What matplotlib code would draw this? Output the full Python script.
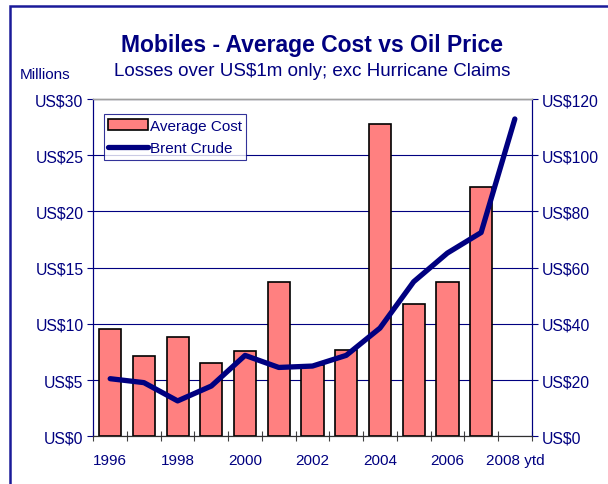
import numpy as np
import matplotlib.pyplot as plt
from matplotlib.patches import Rectangle

plt.rcParams['font.family'] = ['Liberation Sans', 'DejaVu Sans']

NAVY = '#000080'

years = ['1996', '1997', '1998', '1999', '2000', '2001', '2002',
         '2003', '2004', '2005', '2006', '2007', '2008 ytd']
avg_cost = [9.55, 7.15, 8.8, 6.5, 7.6, 13.75, 6.3, 7.7, 27.8, 11.75, 13.7, 22.2, np.nan]
brent = [20.5, 19.1, 12.6, 17.9, 28.8, 24.5, 25.0, 28.8, 38.5, 55.0, 65.2, 72.5, 112.9]

fig = plt.figure(figsize=(6.08, 4.85), dpi=100)
ax = fig.add_axes([0.1535, 0.0983, 0.721, 0.6955])
ax2 = ax.twinx()

x = np.arange(len(years))
bars = ax.bar(x, avg_cost, width=0.66, color='#FF8080', edgecolor='black',
              linewidth=1.2, zorder=2, label='Average Cost')
line, = ax2.plot(x, brent, color=NAVY, linewidth=3.8, solid_capstyle='round',
                 label='Brent Crude', zorder=3)

ax.set_xlim(-0.5, len(years) - 0.5)
ax.set_ylim(0, 30)
ax2.set_ylim(0, 120)
ax.set_yticks(np.arange(0, 31, 5))
ax.set_yticklabels(['US$%d' % v for v in range(0, 31, 5)])
ax2.set_yticks(np.arange(0, 121, 20))
ax2.set_yticklabels(['US$%d' % v for v in range(0, 121, 20)])

ax.yaxis.grid(True, color=NAVY, linewidth=0.8, zorder=0)
ax.set_axisbelow(True)

# category boundaries get ticks, labels every other year
ax.set_xticks(np.arange(-0.5, len(years), 1))
ax.set_xticklabels([])
ax.set_xticks(x[::2], minor=True)
ax.set_xticklabels([years[i] for i in x[::2]], minor=True)
ax.tick_params(axis='x', which='major', direction='inout', length=7, width=0.8, color='#404040')
ax.tick_params(axis='x', which='minor', length=0, pad=12, labelsize=11, labelcolor=NAVY)
ax.tick_params(axis='y', direction='out', length=4, width=0.8, color=NAVY,
               labelsize=11.3, labelcolor=NAVY, pad=3)
ax2.tick_params(axis='y', direction='out', length=4, width=0.8, color=NAVY,
                labelsize=11.3, labelcolor=NAVY, pad=3)

for a in (ax, ax2):
    a.spines['left'].set_color(NAVY)
    a.spines['right'].set_color(NAVY)
    a.spines['top'].set_color('#A0A0A0')
    a.spines['bottom'].set_color('#303030')
    a.spines['top'].set_linewidth(1.0)

leg = ax2.legend([bars, line], ['Average Cost', 'Brent Crude'], loc='upper left',
                 bbox_to_anchor=(0.024, 0.955), fontsize=11, frameon=True,
                 fancybox=False, edgecolor=NAVY, borderpad=0.3, handlelength=2.6,
                 handletextpad=0.1, labelspacing=0.55, borderaxespad=0)
leg.get_frame().set_linewidth(0.8)
for t in leg.get_texts():
    t.set_color(NAVY)

fig.text(0.513, 0.907, 'Mobiles - Average Cost vs Oil Price', ha='center', va='center',
         fontsize=16.5, fontweight='bold', color=NAVY)
fig.text(0.513, 0.852, 'Losses over US$1m only; exc Hurricane Claims', ha='center',
         va='center', fontsize=13.5, color=NAVY)
fig.text(0.033, 0.845, 'Millions', ha='left', va='center', fontsize=11, color=NAVY)

# outer chart border (runs off the right and bottom edges)
fig.patches.append(Rectangle((10 / 608, -0.1), 1.2, 0.1 + (485 - 7) / 485,
                             transform=fig.transFigure, fill=False,
                             edgecolor='#1a1a99', linewidth=1.8))

fig.savefig('out.png', dpi=100)
